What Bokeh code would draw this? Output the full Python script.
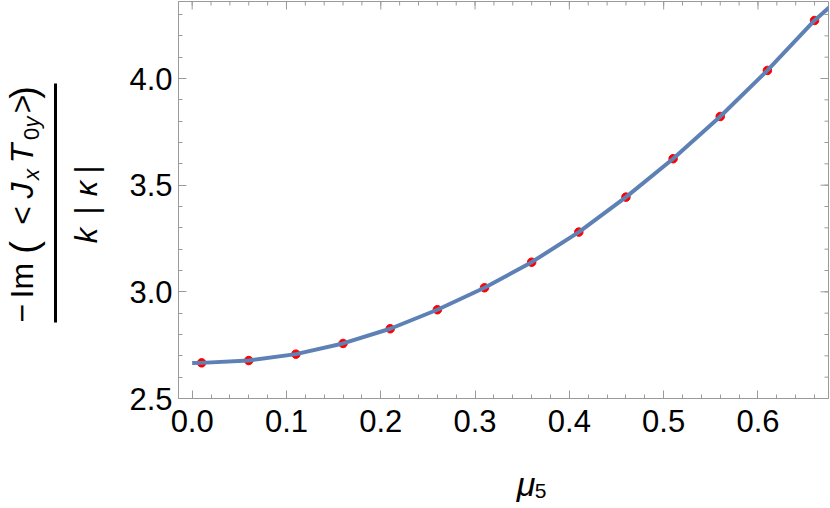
import math
from bokeh.plotting import figure
from bokeh.layouts import row, column
from bokeh.core.properties import value
from bokeh.models import Range1d, FixedTicker, PrintfTickFormatter
from bokeh.embed import file_html
from bokeh.resources import INLINE

# ---- data ----
mu_points = [0.01, 0.06, 0.11, 0.16, 0.21, 0.26, 0.31, 0.36, 0.41, 0.46, 0.51, 0.56, 0.61, 0.66]
im_points = [2.667, 2.678, 2.708, 2.758, 2.827, 2.916, 3.019, 3.139, 3.280, 3.444, 3.624, 3.822, 4.038, 4.272]

mu_curve = [0.0, 0.01, 0.06, 0.11, 0.16, 0.21, 0.26, 0.31, 0.36, 0.41, 0.46, 0.51, 0.56, 0.61, 0.66, 0.676]
im_curve = [2.666, 2.667, 2.678, 2.708, 2.758, 2.827, 2.916, 3.019, 3.139, 3.280, 3.444, 3.624, 3.822, 4.038, 4.272, 4.335]

x_ticks = [0.0, 0.1, 0.2, 0.3, 0.4, 0.5, 0.6]
x_minor = [round(0.02 * k, 2) for k in range(0, 34)]
y_ticks = [2.5, 3.0, 3.5, 4.0]
y_minor = [round(2.5 + 0.1 * k, 1) for k in range(0, 19)]

x_label_main = "μ"
x_label_sub = "5"

GRAY = "#9a9a9a"
FONT = "Liberation Sans"
LINE_COLOR = "#5E81B5"

X0, X1 = -0.0145, 0.6748
Y0, Y1 = 2.5, 4.361

# ---------------- main plot ----------------
p = figure(width=720, height=460,
           x_range=Range1d(X0, X1), y_range=Range1d(Y0, Y1),
           output_backend="svg", toolbar_location=None,
           min_border_left=68, min_border_right=2,
           min_border_top=1, min_border_bottom=62)
p.xgrid.visible = False
p.ygrid.visible = False
p.outline_line_color = GRAY
p.outline_line_width = 1
p.background_fill_color = "white"
p.border_fill_color = "white"


def style(ax, ticks, minor):
    ax.ticker = FixedTicker(ticks=ticks, minor_ticks=minor)
    ax.formatter = PrintfTickFormatter(format="%.1f")
    ax.axis_line_color = GRAY
    ax.major_tick_line_color = GRAY
    ax.minor_tick_line_color = GRAY
    ax.major_tick_in = 8
    ax.major_tick_out = 0
    ax.minor_tick_in = 4
    ax.minor_tick_out = 0
    ax.major_label_text_font = FONT
    ax.major_label_text_color = "black"
    ax.major_label_text_font_size = "31px"


style(p.xaxis[0], x_ticks, x_minor)
p.xaxis[0].major_label_standoff = 11
style(p.yaxis[0], y_ticks, y_minor)
p.yaxis[0].major_label_standoff = 6

# inward ticks on the top and right sides of the frame (half of each dash is clipped)
p.scatter(x_ticks, [Y1] * len(x_ticks), marker="dash", angle=math.pi / 2, size=16,
          line_color=GRAY, line_width=1)
p.scatter(x_minor, [Y1] * len(x_minor), marker="dash", angle=math.pi / 2, size=8,
          line_color=GRAY, line_width=1)
p.scatter([X1] * len(y_ticks), y_ticks, marker="dash", size=16, line_color=GRAY, line_width=1)
p.scatter([X1] * len(y_minor), y_minor, marker="dash", size=8, line_color=GRAY, line_width=1)

# points under the curve
p.scatter(mu_points, im_points, size=8.5, fill_color="#ff0000", line_color="#ff0000")
p.line(mu_curve, im_curve, line_width=4, line_color=LINE_COLOR)

# ---------------- y label (rotated fraction) ----------------
lab = figure(width=110, height=508, x_range=Range1d(0, 110), y_range=Range1d(508, 0),
             output_backend="svg", toolbar_location=None, min_border=0,
             x_axis_location=None, y_axis_location=None)
lab.grid.visible = False
lab.outline_line_color = None
lab.background_fill_color = "white"
lab.border_fill_color = "white"

# (text, font size, style, centre y, centre x) in pixels of the page
num_parts = [
    ("−", "32px", "normal", 312.7, 21),
    ("Im", "32px", "normal", 280.2, 21),
    ("(", "38px", "normal", 247, 23.5),
    ("<", "32px", "normal", 215, 21),
    ("J", "32px", "italic", 190, 21),
    ("x", "22px", "italic", 174, 31.4),
    ("T", "32px", "italic", 153, 21),
    ("0", "22px", "normal", 133.5, 31.4),
    ("y", "22px", "italic", 121.5, 31.4),
    (">", "32px", "normal", 103.5, 21),
    (")", "38px", "normal", 92, 23.5),
]
den_parts = [
    ("k", "31px", "italic", 235, 86.3),
    ("|", "31px", "normal", 210, 86.3),
    ("κ", "31px", "italic", 188, 86.3),
    ("|", "31px", "normal", 169, 86.3),
]
for txt, fs, st, yy, xx in num_parts + den_parts:
    lab.text(x=[xx], y=[yy], text=[txt], angle=math.pi / 2,
             text_font=value(FONT), text_font_size=value(fs), text_font_style=value(st),
             text_align=value("center"), text_baseline=value("middle"), text_color="black")

lab.quad(left=[53.5], right=[56.5], top=[83], bottom=[322], fill_color="black", line_color=None)

# ---------------- x label ----------------
xl = figure(width=720, height=48, x_range=Range1d(110, 830), y_range=Range1d(508, 460),
            output_backend="svg", toolbar_location=None, min_border=0,
            x_axis_location=None, y_axis_location=None)
xl.grid.visible = False
xl.outline_line_color = None
xl.background_fill_color = "white"
xl.border_fill_color = "white"
xl.text(x=[495], y=[483.5], text=[x_label_main], text_font=value(FONT),
        text_font_size=value("34px"), text_font_style=value("italic"),
        text_align=value("center"), text_baseline=value("middle"), text_color="black")
xl.text(x=[511], y=[490.5], text=[x_label_sub], text_font=value(FONT),
        text_font_size=value("21px"), text_font_style=value("normal"),
        text_align=value("center"), text_baseline=value("middle"), text_color="black")

layout = row(lab, column(p, xl, spacing=0), spacing=0)

open("out.html", "w").write(file_html(layout, INLINE))
